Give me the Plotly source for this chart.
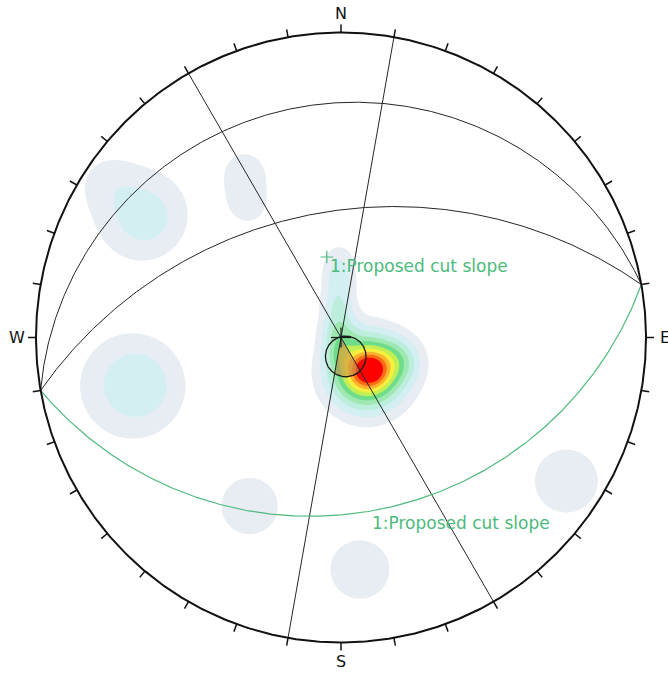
import numpy as np
import plotly.graph_objects as go

# ---------------------------------------------------------------------------
# Stereonet data (lower hemisphere, equal-angle projection)
# ---------------------------------------------------------------------------

# Pole concentrations: trend / plunge (deg), relative weight, kernel spread (deg)
cluster_trend = [143.3, 138.3, 110.9, 191.7, 338.2, 354.7, 358.0, 358.6,
                 301.6, 303.7, 329.9, 324.9, 256.9, 208.5, 175.3, 122.5]
cluster_plunge = [74.4, 73.7, 66.6, 84.4, 87.0, 77.8, 68.6, 60.8,
                  15.9, 4.1, 25.8, 34.1, 21.0, 26.0, 15.6, 7.9]
cluster_weight = [9.0, 3.2, 2.0, 1.5, 2.8, 2.6, 2.3, 1.4,
                  2.6, 0.8, 1.5, 1.5, 2.97, 1.5, 1.5, 1.7]
cluster_spread = [9.6, 4.4, 5.8, 3.75, 4.5, 4.45, 4.35, 4.2,
                  7.8, 4.5, 5.0, 5.0, 9.0, 8.4, 7.7, 6.5]

# Contour levels and band colours (below first level -> white)
contour_levels = [1, 2, 3, 4, 5, 6, 7, 8, 9, 10]
band_colors = ["#ffffff", "#e8ecf3", "#d3eff2", "#bdeedd", "#9fe8b2", "#6edc8a",
               "#bfee55", "#f6f03c", "#ffb22e", "#ff6a14", "#ff0000"]

# Joint sets drawn as great circles: dip direction / dip (deg)
joint_dipdir = [350, 350, 60, 100]
joint_dip = [15, 45, 90, 90]

# Proposed cut slope
slope_dipdir = 170
slope_dip = 30
slope_label = "1:Proposed cut slope"

# Cone drawn near the centre: axis trend / plunge, half-angle (deg)
cone_trend, cone_plunge, cone_half = 166.0, 82.7, 7.6
# Shaded sector inside the cone, bounded by azimuths (deg)
sector_az = [150, 190]

cardinals = ["N", "E", "S", "W"]
cardinal_az = [0, 90, 180, 270]
tick_az = list(range(0, 360, 10))

GREEN = "#4cba7c"
D2R = np.pi / 180.0


def to_vec(trend, plunge):
    t, p = np.asarray(trend) * D2R, np.asarray(plunge) * D2R
    return np.stack([np.cos(p) * np.sin(t), np.cos(p) * np.cos(t), np.sin(p)], axis=-1)


def project(v):
    v = np.array(v, dtype=float)
    flip = v[..., 2] < 0
    v[flip] *= -1
    d = 1.0 + v[..., 2]
    return v[..., 0] / d, v[..., 1] / d


def great_circle(dipdir, dip, n=361):
    s = to_vec(dipdir - 90, 0.0)
    d = to_vec(dipdir, dip)
    th = np.linspace(0, np.pi, n)
    v = np.cos(th)[:, None] * s + np.sin(th)[:, None] * d
    return project(v)


def small_circle(trend, plunge, half, n=361):
    a = to_vec(trend, plunge)
    u = np.cross(a, [0, 0, 1.0])
    if np.linalg.norm(u) < 1e-9:
        u = np.array([1.0, 0, 0])
    u /= np.linalg.norm(u)
    w = np.cross(a, u)
    ph = np.linspace(0, 2 * np.pi, n)
    h = half * D2R
    v = (np.cos(h) * a[None, :] + np.sin(h) * (np.cos(ph)[:, None] * u + np.sin(ph)[:, None] * w))
    return project(v)


# ---------------------------------------------------------------------------
# Density grid (lower hemisphere only)
# ---------------------------------------------------------------------------
n = 561
gx = np.linspace(-1.03, 1.03, n)
gy = np.linspace(-1.03, 1.03, n)
X, Y = np.meshgrid(gx, gy)
r2 = X ** 2 + Y ** 2
den = 1 + r2
V = np.stack([2 * X / den, 2 * Y / den, (1 - r2) / den], axis=-1)

Z = np.zeros_like(X)
for t, p, w, s in zip(cluster_trend, cluster_plunge, cluster_weight, cluster_spread):
    c = to_vec(t, p)
    ang = np.degrees(np.arccos(np.clip(V @ c, -1, 1)))
    Z += w * np.exp(-0.5 * (ang / s) ** 2)
Z[r2 > 1.0] = 0.0

nb = len(band_colors)
zmax = float(nb)
colorscale = []
for i, col in enumerate(band_colors):
    colorscale.append([i / nb, col])
    colorscale.append([(i + 1) / nb, col])

fig = go.Figure()

fig.add_trace(go.Contour(
    x=gx, y=gy, z=Z,
    zmin=0, zmax=zmax, zauto=False,
    colorscale=colorscale, showscale=False,
    contours=dict(coloring="fill", start=contour_levels[0], end=contour_levels[-1],
                  size=contour_levels[1] - contour_levels[0], showlines=False),
    line=dict(width=0), hoverinfo="skip",
))

# Shaded sector inside the cone
beta = 90 - cone_plunge
r1 = np.tan((beta - cone_half) / 2 * D2R)
r2c = np.tan((beta + cone_half) / 2 * D2R)
axis_dir = np.array([np.sin(cone_trend * D2R), np.cos(cone_trend * D2R)])
cc = axis_dir * (r1 + r2c) / 2
rad = (r2c - r1) / 2
az = np.linspace(sector_az[0], sector_az[1], 80) * D2R
ux, uy = np.sin(az), np.cos(az)
uc = ux * cc[0] + uy * cc[1]
tt = uc + np.sqrt(np.maximum(uc ** 2 - cc @ cc + rad ** 2, 0))
sx = np.concatenate([[0], tt * ux, [0]])
sy = np.concatenate([[0], tt * uy, [0]])
fig.add_trace(go.Scatter(x=sx, y=sy, mode="lines", fill="toself",
                         fillcolor="rgba(196,140,72,0.6)", line=dict(width=0),
                         hoverinfo="skip", showlegend=False))

# Joint great circles
for dd, dp in zip(joint_dipdir, joint_dip):
    x, y = great_circle(dd, dp)
    fig.add_trace(go.Scatter(x=x, y=y, mode="lines", line=dict(color="#262626", width=1),
                             hoverinfo="skip", showlegend=False))

# Cut slope great circle and its pole
sx_, sy_ = great_circle(slope_dipdir, slope_dip)
fig.add_trace(go.Scatter(x=sx_, y=sy_, mode="lines", line=dict(color=GREEN, width=1.2),
                         hoverinfo="skip", showlegend=False))
px_, py_ = project(to_vec(slope_dipdir + 180, 90 - slope_dip))
fig.add_trace(go.Scatter(x=[px_], y=[py_], mode="markers",
                         marker=dict(symbol="cross-thin", size=9, line=dict(color=GREEN, width=1.2)),
                         hoverinfo="skip", showlegend=False))

# Cone
cx, cy = small_circle(cone_trend, cone_plunge, cone_half)
fig.add_trace(go.Scatter(x=cx, y=cy, mode="lines", line=dict(color="#1a1a1a", width=1.3),
                         hoverinfo="skip", showlegend=False))

# Centre cross
k = 0.033
fig.add_trace(go.Scatter(x=[-k, k, None, 0, 0], y=[0, 0, None, -k, k], mode="lines",
                         line=dict(color="#1a1a1a", width=1.2), hoverinfo="skip", showlegend=False))

# Primitive circle and azimuth ticks
ang = np.linspace(0, 2 * np.pi, 721)
fig.add_trace(go.Scatter(x=np.sin(ang), y=np.cos(ang), mode="lines",
                         line=dict(color="#111111", width=2), hoverinfo="skip", showlegend=False))
tx, ty = [], []
tick_len = 8 / 305
for a in tick_az:
    s_, c_ = np.sin(a * D2R), np.cos(a * D2R)
    tx += [s_, (1 + tick_len) * s_, None]
    ty += [c_, (1 + tick_len) * c_, None]
fig.add_trace(go.Scatter(x=tx, y=ty, mode="lines", line=dict(color="#111111", width=1.5),
                         hoverinfo="skip", showlegend=False))

annotations = []
lab_r = 1 + 19 / 305
for name, a in zip(cardinals, cardinal_az):
    annotations.append(dict(x=lab_r * np.sin(a * D2R), y=lab_r * np.cos(a * D2R), text=name,
                            showarrow=False, xanchor="center", yanchor="middle",
                            font=dict(family="DejaVu Sans", size=16, color="#111111")))

annotations.append(dict(x=px_, y=py_, text=slope_label, showarrow=False,
                        xanchor="left", yanchor="middle", xshift=1, yshift=-9,
                        font=dict(family="DejaVu Sans", size=17, color=GREEN)))
i_lab = int(np.argmin(np.abs(sx_ - 0.100)))
annotations.append(dict(x=sx_[i_lab], y=sy_[i_lab], text=slope_label, showarrow=False,
                        xanchor="left", yanchor="top", xshift=-2, yshift=0,
                        font=dict(family="DejaVu Sans", size=17, color=GREEN)))

fig.update_layout(
    width=668, height=675,
    margin=dict(l=0, r=0, t=0, b=0),
    paper_bgcolor="white", plot_bgcolor="white",
    xaxis=dict(range=[-341 / 305, (668 - 341) / 305], visible=False, fixedrange=True),
    yaxis=dict(range=[-(675 - 337.5) / 305, 337.5 / 305], visible=False, fixedrange=True),
    annotations=annotations,
    showlegend=False,
)

fig.write_html("out.html")
